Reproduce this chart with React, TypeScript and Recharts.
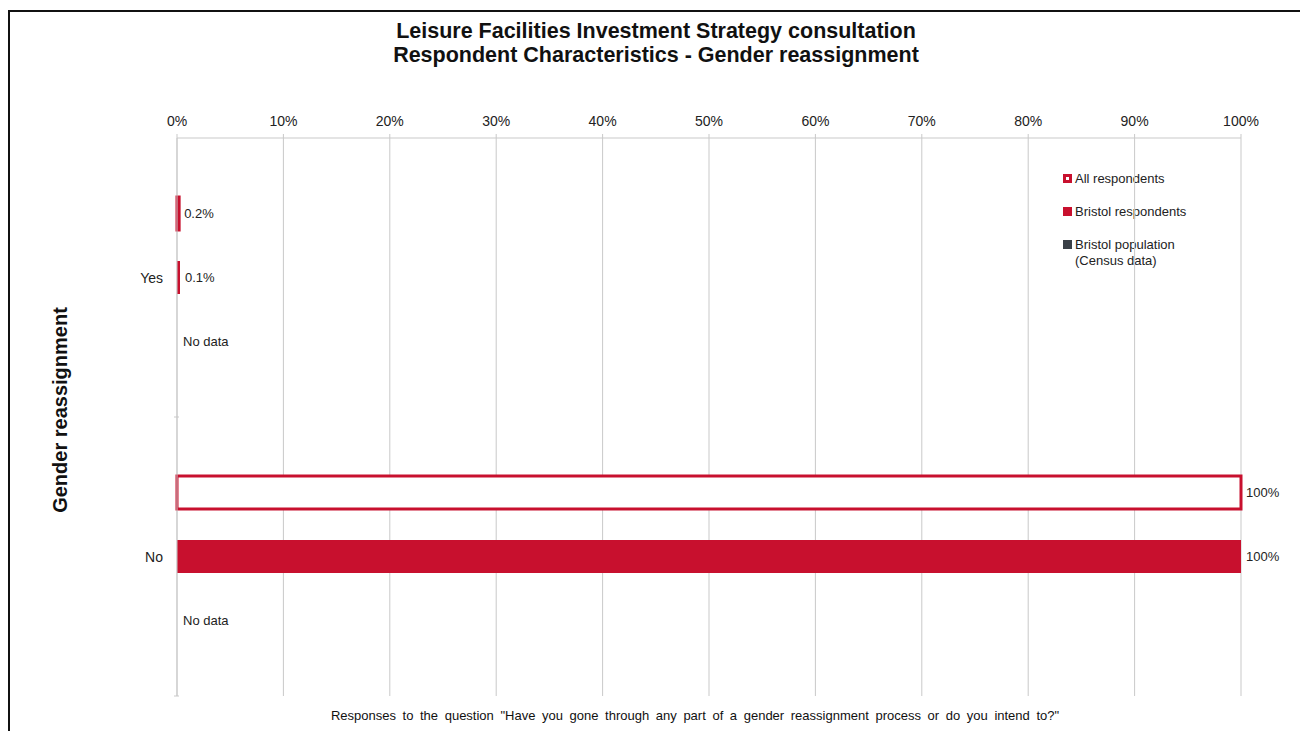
import { BarChart, Bar, XAxis, YAxis, CartesianGrid, LabelList } from 'recharts';

const categories = ['Yes', 'No'];
const allRespondents = [0.2, 100];
const bristolRespondents = [0.1, 100];
const bristolPopulation = [null, null]; // no census data

const xTicks = [0, 10, 20, 30, 40, 50, 60, 70, 80, 90, 100];

const RED = '#c8102e';
const DARK = '#3a4047';
const GRID = '#c9c9c9';
const FONT = '"Liberation Sans", Arial, sans-serif';

const data = categories.map((c, i) => ({
  name: c,
  all: allRespondents[i],
  bristol: bristolRespondents[i],
  population: bristolPopulation[i] ?? 0,
}));

const legendItems = [
  { label: 'All respondents', color: RED, outline: true },
  { label: 'Bristol respondents', color: RED },
  { label: 'Bristol population\n(Census data)', color: DARK },
];

const CHART_W = 1292;
const CHART_H = 740;
const PLOT_H = 558;

const LegendBox = () => (
  <div style={{ position: 'absolute', left: 1053, top: 159, fontFamily: FONT, fontSize: 13, color: '#222' }}>
    {legendItems.map((it) => (
      <div key={it.label} style={{ display: 'flex', alignItems: 'flex-start', height: 33, lineHeight: '16px' }}>
        <span
          style={{
            display: 'inline-block',
            width: 9,
            height: 9,
            marginTop: 3,
            marginRight: 3,
            background: it.color,
            position: 'relative',
          }}
        >
          {it.outline && (
            <span style={{ position: 'absolute', left: 3, top: 3, width: 3, height: 3, background: '#fff' }} />
          )}
        </span>
        <span style={{ whiteSpace: 'pre' }}>{it.label}</span>
      </div>
    ))}
  </div>
);

const CategoryTick = (props: any) => {
  const { x, y, payload } = props;
  const half = PLOT_H / categories.length / 2;
  return (
    <g>
      <text x={x - 6} y={y} dy={5} textAnchor="end" fontFamily={FONT} fontSize={14} fill="#222">
        {payload.value}
      </text>
      <line x1={x + 5} x2={x + 10} y1={y + half} y2={y + half} stroke={GRID} />
    </g>
  );
};

const ValueLabel = (props: any) => {
  const { x, y, width, height, value } = props;
  const text = value ? `${value}%` : 'No data';
  const left = value ? x + width + 5 : x + 6;
  return (
    <text x={left} y={y + height / 2} dy={4.5} fontFamily={FONT} fontSize={13} fill="#222">
      {text}
    </text>
  );
};

const App = () => {
  return (
    <div
      style={{
        position: 'relative',
        marginTop: 2,
        width: 1292,
        height: 760,
        border: '2px solid #111',
        background: '#fff',
        fontFamily: FONT,
      }}
    >
      <div
        style={{
          position: 'absolute',
          top: 7,
          left: 0,
          width: 1292,
          textAlign: 'center',
          fontWeight: 'bold',
          fontSize: 21.5,
          lineHeight: '24px',
          color: '#111',
        }}
      >
        Leisure Facilities Investment Strategy consultation
        <br />
        Respondent Characteristics - Gender reassignment
      </div>
      <div
        style={{
          position: 'absolute',
          left: 50,
          top: 398,
          transform: 'translate(-50%, -50%) rotate(-90deg)',
          fontWeight: 'bold',
          fontSize: 20,
          whiteSpace: 'nowrap',
          color: '#111',
        }}
      >
        Gender reassignment
      </div>
      <div
        style={{
          position: 'absolute',
          top: 696,
          left: 0,
          width: 1370,
          textAlign: 'center',
          fontSize: 13,
          wordSpacing: 3,
          color: '#111',
          whiteSpace: 'nowrap',
        }}
      >
        Responses to the question "Have you gone through any part of a gender reassignment process or do you intend to?"
      </div>
      <LegendBox />
      <BarChart
        width={CHART_W}
        height={CHART_H}
        data={data}
        layout="vertical"
        margin={{ top: 96, right: 61, bottom: 56, left: 107 }}
        barSize={33}
        barGap={31}
        style={{ position: 'absolute', top: 0, left: 0 }}
      >
        <CartesianGrid horizontal={false} vertical stroke={GRID} />
        <XAxis
          type="number"
          orientation="top"
          domain={[0, 100]}
          ticks={xTicks}
          tickFormatter={(v) => `${v}%`}
          axisLine={{ stroke: GRID }}
          tickLine={{ stroke: GRID }}
          tickSize={4}
          tickMargin={8}
          height={30}
          tick={{ fontFamily: FONT, fontSize: 14, fill: '#222' }}
        />
        <YAxis
          type="category"
          dataKey="name"
          width={60}
          axisLine={{ stroke: GRID }}
          tickLine={false}
          tick={<CategoryTick />}
        />
        <Bar dataKey="all" name="All respondents" fill="#fff" stroke={RED} strokeWidth={3} isAnimationActive={false}>
          <LabelList dataKey="all" content={<ValueLabel />} />
        </Bar>
        <Bar dataKey="bristol" name="Bristol respondents" fill={RED} minPointSize={3} isAnimationActive={false}>
          <LabelList dataKey="bristol" content={<ValueLabel />} />
        </Bar>
        <Bar dataKey="population" name="Bristol population (Census data)" fill="none" minPointSize={1} isAnimationActive={false}>
          <LabelList dataKey="population" content={<ValueLabel />} />
        </Bar>
      </BarChart>
    </div>
  );
};

export default App;
